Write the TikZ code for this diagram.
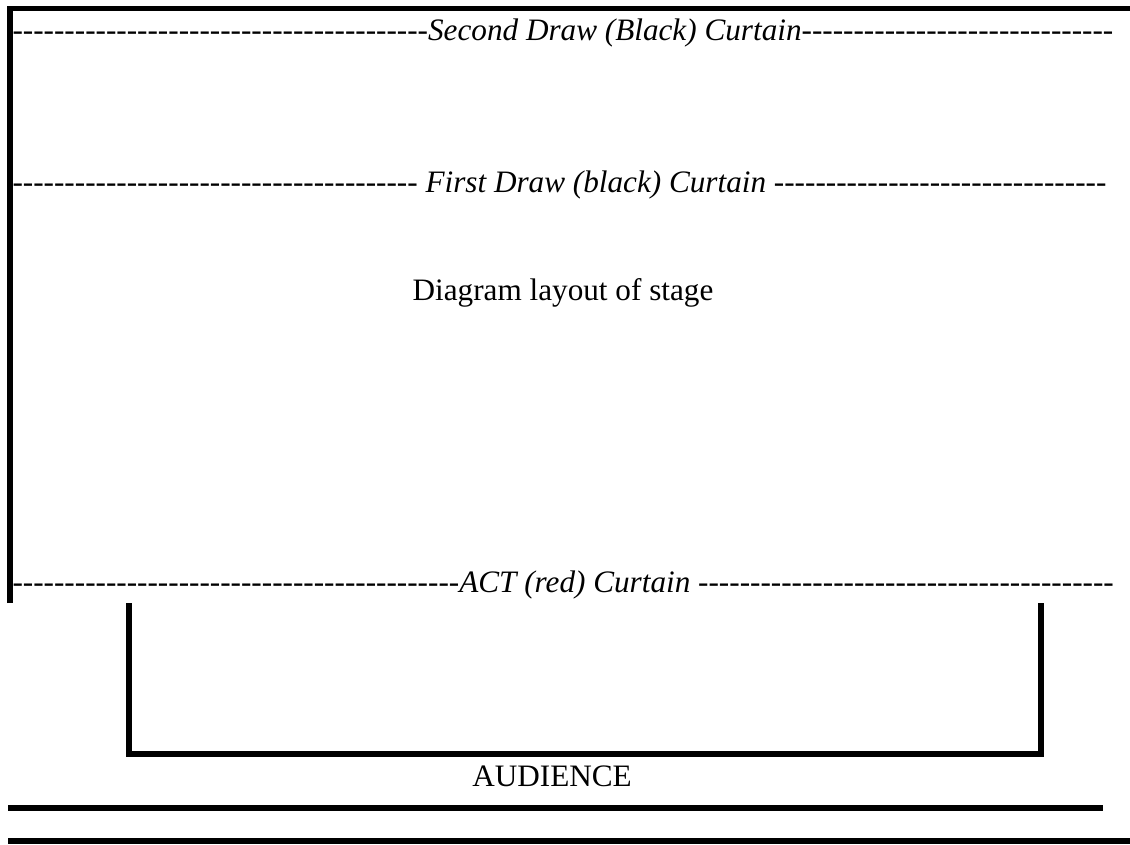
\documentclass[tikz,border=0pt]{standalone}
\usepackage{fontspec}
\setmainfont{Liberation Serif}[Ligatures=TeXOff]
\newcommand\myhy[1]{\ifnum#1>0 -\expandafter\myhy\expandafter{\the\numexpr#1-1\relax}\fi}
\tikzset{
  wall/.style={line width=2.3pt, line join=miter, line cap=butt},
  label/.style={inner sep=0pt, font=\fontsize{12}{14}\selectfont},
  curtain/.style={label, anchor=base west, font=\fontsize{12}{14}\selectfont\itshape}
}
\begin{document}
\begin{tikzpicture}[x=0.3846pt, y=-0.3846pt]
\useasboundingbox (0,0) rectangle (1130,844);
\clip (0,0) rectangle (1130,844);
% stage walls
\draw[wall] (10,603) -- (10,8.5) -- (1135,8.5);
% curtains
\node[curtain] (l1) at (12,40) {\myhy{40}Second Draw (Black) Curtain\myhy{30}};
\node[curtain] (l2) at (12,192) {\myhy{39} First Draw (black) Curtain \myhy{32}};
\node[curtain] (l3) at (12,592) {\myhy{43}ACT (red) Curtain \myhy{40}};
% title
\node[label, anchor=base] (title) at (563,300) {Diagram layout of stage};
% apron / pit
\draw[wall] (129,603) -- (129,753.5) -- (1041,753.5) -- (1041,603);
\node[label, anchor=base] (aud) at (552,786) {AUDIENCE};
\draw[wall] (8,807.5) -- (1103,807.5);
\draw[wall] (8,841) -- (1135,841);
\end{tikzpicture}
\end{document}
